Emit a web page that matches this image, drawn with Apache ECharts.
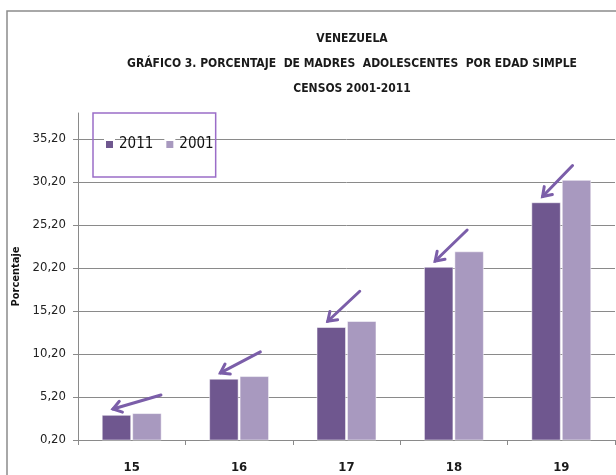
<!DOCTYPE html>
<html>
<head>
<meta charset="utf-8">
<script src="https://cdn.jsdelivr.net/npm/echarts@6/dist/echarts.min.js"></script>
<style>
  html, body { margin: 0; padding: 0; background: #fff; }
  #main { width: 616px; height: 475px; }
</style>
</head>
<body>
<div id="main"></div>
<script>
// data
const categories = ['15', '16', '17', '18', '19'];
const values2011 = [3.1, 7.3, 13.3, 20.3, 27.8];
const values2001 = [3.3, 7.6, 14.0, 22.1, 30.4];
const seriesNames = ['2011', '2001'];
const titleLines = [
  'VENEZUELA',
  'GRÁFICO 3. PORCENTAJE  DE MADRES  ADOLESCENTES  POR EDAD SIMPLE',
  'CENSOS 2001-2011'
];
const yMin = 0.2, yMax = 38.2, yStep = 5;

// arrow annotations (direction of each arrow, px)
const arrowDirs = [[48, -14], [40, -21], [32, -30], [32, -31], [30, -31]];

const FONT = "'DejaVu Sans Condensed', 'Liberation Sans Narrow', sans-serif";
const DARK = '#6f578f', LIGHT = '#a899bf', ARROW = '#7b5ea9';

let chart = echarts.init(document.getElementById('main'));

function drawArrow(params, api) {
  const i = api.value(0);
  const p = api.coord([i, api.value(1)]);
  const bw = api.size([1, 0])[0];
  const tip = [p[0] - bw * 0.277 + 11, p[1] - 6];
  const d = arrowDirs[params.dataIndex];
  const tail = [tip[0] + d[0], tip[1] + d[1]];
  const ang = Math.atan2(d[1], d[0]);
  const h = 10, s = 0.6;
  const h1 = [tip[0] + h * Math.cos(ang + s), tip[1] + h * Math.sin(ang + s)];
  const h2 = [tip[0] + h * Math.cos(ang - s), tip[1] + h * Math.sin(ang - s)];
  return {
    type: 'group',
    children: [
      { type: 'line', shape: { x1: tail[0], y1: tail[1], x2: tip[0], y2: tip[1] },
        style: { stroke: ARROW, lineWidth: 3, lineCap: 'round' } },
      { type: 'polyline', shape: { points: [h1, tip, h2] },
        style: { stroke: ARROW, lineWidth: 3, fill: null, lineCap: 'round' } }
    ]
  };
}

let option = {
  animation: false,
  textStyle: { fontFamily: FONT },
  graphic: [
    { type: 'rect', shape: { x: 7, y: 11, width: 700, height: 600 },
      style: { fill: null, stroke: '#8c8c8c', lineWidth: 1.5 }, silent: true }
  ],
  title: {
    text: titleLines.join('\n'),
    left: 347,
    top: 21,
    textAlign: 'center',
    textStyle: { fontFamily: FONT, fontSize: 12, fontWeight: 'bold', color: '#1a1a1a', lineHeight: 25 }
  },
  legend: {
    data: seriesNames,
    left: 93,
    top: 113,
    padding: [24, 2, 25, 11],
    itemWidth: 9,
    itemHeight: 9,
    itemGap: 11,
    icon: 'rect',
    borderColor: '#9b6dc8',
    borderWidth: 1.5,
    textStyle: { fontFamily: FONT, fontSize: 15, color: '#111' }
  },
  grid: { left: 78, right: 1, top: 113, bottom: 35 },
  xAxis: {
    type: 'category',
    data: categories,
    axisLine: { lineStyle: { color: '#8a8a8a', width: 1 } },
    axisTick: { show: true, length: 5, lineStyle: { color: '#8a8a8a' } },
    axisLabel: { fontFamily: FONT, fontSize: 13, fontWeight: 'bold', color: '#1a1a1a', margin: 21 }
  },
  yAxis: {
    type: 'value',
    min: yMin,
    max: yMax,
    interval: yStep,
    name: 'Porcentaje',
    nameLocation: 'middle',
    nameGap: 55,
    nameTextStyle: { fontFamily: FONT, fontSize: 11, fontWeight: 'bold', color: '#111' },
    axisLine: { show: true, lineStyle: { color: '#8a8a8a', width: 1 } },
    axisTick: { show: true, length: 5, lineStyle: { color: '#8a8a8a' } },
    axisLabel: {
      fontFamily: FONT, fontSize: 13, color: '#222', margin: 12, showMaxLabel: false,
      formatter: v => v.toFixed(2).replace('.', ',')
    },
    splitLine: { show: true, showMaxLine: false, lineStyle: { color: '#8a8a8a', width: 1 } }
  },
  series: [
    {
      name: seriesNames[0], type: 'bar', data: values2011,
      barWidth: '27%', barGap: '5%',
      itemStyle: { color: DARK, borderColor: '#fff', borderWidth: 0.5 }
    },
    {
      name: seriesNames[1], type: 'bar', data: values2001,
      barWidth: '27%', barGap: '5%',
      itemStyle: { color: LIGHT, borderColor: '#fff', borderWidth: 0.5 }
    },
    {
      type: 'custom', name: 'arrows', silent: true, z: 5,
      data: values2011.map((v, i) => [i, v]),
      renderItem: drawArrow
    }
  ]
};

chart.setOption(option);
</script>
</body>
</html>
